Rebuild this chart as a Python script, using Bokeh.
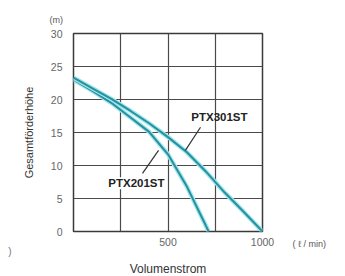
import math
from bokeh.plotting import figure
from bokeh.models import FixedTicker, Label, Title, LinearAxis
from bokeh.embed import file_html
from bokeh.resources import INLINE

# data
flow_301 = [0, 100, 200, 300, 400, 500, 600, 700, 800, 900, 1000]
head_301 = [23.3, 21.7, 20.1, 18.3, 16.4, 14.3, 12.0, 9.1, 5.9, 3.0, 0.0]
flow_201 = [0, 100, 200, 300, 400, 500, 600, 700, 715]
head_201 = [23.0, 21.3, 19.5, 17.3, 15.1, 11.7, 6.8, 0.9, 0.0]
x_ticks = [0, 250, 500, 750, 1000]
y_ticks = [0, 5, 10, 15, 20, 25, 30]
x_tick_labels = {0: "", 250: "", 500: "500", 750: "", 1000: "1000"}
series_names = ["PTX301ST", "PTX201ST"]

FONT = "Liberation Sans"

p = figure(width=345, height=276, output_backend="svg", toolbar_location=None,
           x_range=(0, 1000), y_range=(0, 30),
           frame_width=189, frame_height=198,
           min_border_left=73, min_border_top=33, min_border_right=83, min_border_bottom=45)
p.background_fill_color = "white"
p.border_fill_color = "white"
p.outline_line_color = "#3a3a3a"
p.outline_line_width = 1.5

p.xaxis.ticker = FixedTicker(ticks=x_ticks)
p.yaxis.ticker = FixedTicker(ticks=y_ticks)
p.xaxis.major_label_overrides = x_tick_labels


def style_axis(ax):
    ax.axis_line_color = None
    ax.major_tick_line_color = None
    ax.minor_tick_line_color = None
    ax.major_tick_out = 0
    ax.major_tick_in = 0
    ax.minor_tick_out = 0
    ax.minor_tick_in = 0
    ax.major_label_text_font = FONT
    ax.major_label_text_font_size = "10.5px"
    ax.major_label_text_color = "#666666"
    ax.axis_label_text_font = FONT
    ax.axis_label_text_font_style = "normal"
    ax.axis_label_text_color = "#333333"


style_axis(p.xaxis[0])
style_axis(p.yaxis[0])
p.xaxis.major_label_standoff = 6
p.yaxis.major_label_standoff = 11
p.xaxis.axis_label = "Volumenstrom"
p.xaxis.axis_label_text_font_size = "12px"
p.xaxis.axis_label_standoff = 13

p.xgrid.ticker = FixedTicker(ticks=x_ticks)
p.ygrid.ticker = FixedTicker(ticks=y_ticks)
p.grid.grid_line_color = "#4a4a4a"
p.grid.grid_line_width = 1.2
p.grid.grid_line_alpha = 1.0

# curves
for fx, fy in ((flow_201, head_201), (flow_301, head_301)):
    p.line(fx, fy, line_color="#9ee6ee", line_width=4.5)
    p.line(fx, fy, line_color="#2a8f9c", line_width=2.0)

# leader lines
p.segment(x0=[672, 365], y0=[15.8, 8.8], x1=[592, 450], y1=[12.3, 12.3],
          line_color="#333333", line_width=1.2)

p.add_layout(Label(x=772, y=17.3, text=series_names[0], text_font=FONT,
                   text_font_size="11.5px", text_font_style="bold",
                   text_align="center", text_baseline="middle", text_color="#222222"))
p.add_layout(Label(x=333, y=7.3, text=series_names[1], text_font=FONT,
                   text_font_size="11.5px", text_font_style="bold",
                   text_align="center", text_baseline="middle", text_color="#222222",
                   background_fill_color="white"))

# unit label above the y axis
p.add_layout(Title(text="(m)", align="left", offset=-24, text_font=FONT,
                   text_font_size="9px", text_font_style="normal",
                   text_color="#555555", standoff=17), "above")

# y axis title (shifted up like the reference)
p.add_layout(Title(text="Gesamtförderhöhe", align="center", offset=16, text_font=FONT,
                   text_font_size="11px", text_font_style="normal",
                   text_color="#333333", standoff=21, vertical_align="top"), "left")

# unit label of the x axis on a right-hand axis (pushed down with blank lines)
unit_axis = LinearAxis(ticker=FixedTicker(ticks=[0]),
                       major_label_overrides={0: "\n\n( ℓ / min)"})
style_axis(unit_axis)
unit_axis.major_label_text_font_size = "9px"
unit_axis.major_label_text_color = "#555555"
unit_axis.major_label_standoff = 30
p.add_layout(unit_axis, "right")

# cut-off bracket at the far left
edge_axis = LinearAxis(ticker=FixedTicker(ticks=[0]), major_label_overrides={0: "\n\n\n)"})
style_axis(edge_axis)
edge_axis.major_label_text_font_size = "10px"
edge_axis.major_label_text_color = "#777777"
edge_axis.major_label_standoff = 1
p.add_layout(edge_axis, "left")

open("out.html", "w").write(file_html(p, INLINE))
